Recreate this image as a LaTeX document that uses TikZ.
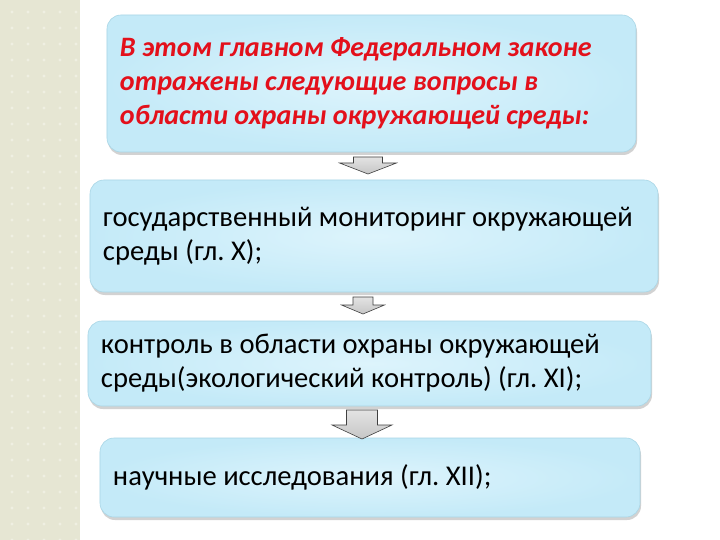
\documentclass[tikz,border=0pt]{standalone}
\usepackage{fontspec}
\setmainfont{Carlito}
\frenchspacing
\usetikzlibrary{shadows}

\definecolor{bande}{HTML}{E6E6D3}
\definecolor{bandepoint}{HTML}{EFEFE2}
\definecolor{bleuclair}{HTML}{DDF4FC}
\definecolor{bleu}{HTML}{C4EAF8}
\definecolor{bord}{HTML}{A9D6E6}
\definecolor{rouge}{HTML}{E3101B}

\tikzset{boite/.style = {rectangle, rounded corners=14bp, draw=bord, line width=0.6bp,
                         inner color=bleuclair, outer color=bleu,
                         drop shadow={shadow xshift=1bp, shadow yshift=-3bp, opacity=0.35},
                         inner xsep=13bp, inner ysep=0pt, align=flush left,
                         text width=#1-26bp, minimum width=#1,
                         font=\fontsize{28.6bp}{34bp}\selectfont},
         boite/.default=540bp,
         fleche/.style = {draw=black!75, line width=0.6bp, top color=gray!22, bottom color=gray!45}
        }

\begin{document}
\begin{tikzpicture}[x=1bp, y=-1bp]
  \useasboundingbox (0,0) rectangle (720,540);
  \fill[white] (0,0) rectangle (720,540);
  \fill[bande] (0,0) rectangle (80,540);
  \foreach \i in {0,...,4}
    \foreach \j in {0,...,33}
      \fill[bandepoint] (12+16*\i, 12+16*\j) circle (1.6bp);

  \node[boite=529bp, minimum height=137bp, text=rouge, font=\fontsize{28.1bp}{34bp}\selectfont\bfseries\itshape]
    (loi) at (371.5, 83.5) {В этом главном Федеральном законе\\отражены следующие вопросы в\\области охраны окружающей среды:};
  \node[boite=568bp, minimum height=112bp] (monit) at (374, 236)
    {государственный мониторинг окружающей\\среды (гл. X);};
  \node[boite=563bp, minimum height=85bp] (contr) at (369.5, 363.5)
    {контроль в области охраны окружающей\\среды(экологический контроль) (гл. XI);};
  \node[boite=540bp, minimum height=79bp] (nauka) at (370, 477.5)
    {научные исследования (гл. XII);};

  % fleches entre les boites
  \coordinate (f1) at (368, 157);
  \coordinate (f2) at (363, 297);
  \coordinate (f3) at (362, 410);
  \draw[fleche] (f1) ++(-14.5,0) -- ++(29,0) -- ++(0,6) -- ++(14,0) -- (368,174)
    -- (339.5,163) -- (353.5,163) -- cycle;
  \draw[fleche] (f2) ++(-10,0) -- ++(20,0) -- ++(0,8) -- ++(11.5,0) -- (363,314)
    -- (341.5,305) -- (353,305) -- cycle;
  \draw[fleche] (f3) ++(-15.5,0) -- ++(31,0) -- ++(0,15) -- ++(14.5,0) -- (362,439)
    -- (332,425) -- (346.5,425) -- cycle;
\end{tikzpicture}
\end{document}
